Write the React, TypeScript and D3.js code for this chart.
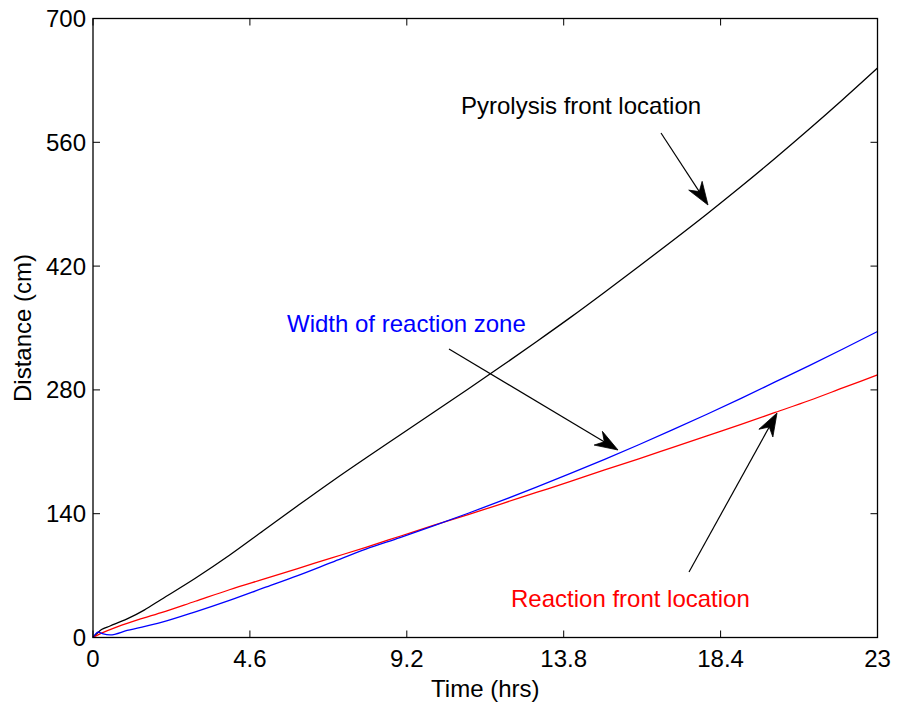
import React from "react";
import * as d3 from "d3";

// Time samples (hrs) for each series
const pyroTime = [0, 0.25, 0.5, 1, 1.5, 2, 3, 4, 5, 6, 7, 8, 9, 10, 11, 12, 13, 14, 15, 16, 17, 18, 19, 20, 21, 22, 23];
const pyroDist = [0, 9, 13, 21, 31, 43, 67, 93, 121, 149, 176.5, 203, 229, 255, 281, 307.5, 334.5, 362, 390.5, 419.5, 449, 479, 510, 542, 575, 609, 644];

const reactTime = [0, 0.25, 0.5, 1, 2, 3, 4, 5, 6, 7, 8, 9, 10, 11, 12, 13, 14, 15, 16, 17, 18, 19, 20, 21, 22, 23];
const reactDist = [0, 5, 9, 16, 28, 41, 54, 66, 78, 90, 102, 114.5, 127, 139, 151.5, 164, 176.5, 189.5, 202, 215, 228, 241, 254.5, 268, 282.5, 297];

const widthTime = [0, 0.15, 0.3, 0.5, 1, 2, 3, 4, 5, 6, 7, 8, 9, 10, 11, 12, 13, 14, 15, 16, 17, 18, 19, 20, 21, 22, 23];
const widthDist = [0, 6, 4, 3, 8, 17, 29, 42, 56, 70, 85, 100, 113, 126.5, 140.5, 155, 170, 185.5, 201.5, 218, 235, 252.5, 270.5, 289, 307.5, 326.5, 346];

const xTicks = [0, 4.6, 9.2, 13.8, 18.4, 23];
const xTickLabels = ["0", "4.6", "9.2", "13.8", "18.4", "23"];
const yTicks = [0, 140, 280, 420, 560, 700];
const yTickLabels = ["0", "140", "280", "420", "560", "700"];

const W = 898;
const H = 709;
const left = 93;
const right = 877.5;
const top = 18.5;
const bottom = 637.5;
const FONT = "'Liberation Sans', Arial, Helvetica, sans-serif";
const FS = 24;
const TICK = 7;

const x = d3.scaleLinear().domain([0, 23]).range([left, right]);
const y = d3.scaleLinear().domain([0, 700]).range([bottom, top]);

const lineGen = d3
  .line<[number, number]>()
  .x((d) => x(d[0]))
  .y((d) => y(d[1]))
  .curve(d3.curveMonotoneX);

const zip = (a: number[], b: number[]): [number, number][] => a.map((v, i) => [v, b[i]]);

// Annotation arrows: pointer from a tail to a tip (pixel space)
type Arrow = { x1: number; y1: number; x2: number; y2: number };
const arrows: Arrow[] = [
  { x1: 661, y1: 133, x2: 708, y2: 205 },
  { x1: 449, y1: 349, x2: 618, y2: 450 },
  { x1: 689, y1: 572, x2: 777, y2: 413 },
];

function arrowHead(a: Arrow) {
  const L = 23;
  const hw = 8;
  const notch = 7;
  const ang = Math.atan2(a.y2 - a.y1, a.x2 - a.x1);
  const c = Math.cos(ang);
  const s = Math.sin(ang);
  const pt = (u: number, v: number) => [a.x2 + u * c - v * s, a.y2 + u * s + v * c];
  const p = [pt(0, 0), pt(-L, hw), pt(-L + notch, 0), pt(-L, -hw)];
  return "M" + p.map((q) => q.join(",")).join("L") + "Z";
}

export default function App() {
  return (
    <svg
      width={W}
      height={H}
      style={{ position: "absolute", left: 0, top: 0, background: "#fff" }}
      fontFamily={FONT}
    >
      <rect x={0} y={0} width={W} height={H} fill="#fff" />

      {/* series */}
      <path d={lineGen(zip(pyroTime, pyroDist)) || ""} fill="none" stroke="#000" strokeWidth={1.3} />
      <path d={lineGen(zip(reactTime, reactDist)) || ""} fill="none" stroke="#ff0000" strokeWidth={1.3} />
      <path d={lineGen(zip(widthTime, widthDist)) || ""} fill="none" stroke="#0000ff" strokeWidth={1.3} />

      {/* axes box */}
      <rect x={left} y={top} width={right - left} height={bottom - top} fill="none" stroke="#000" strokeWidth={1.3} />

      {xTicks.map((t, i) => (
        <g key={"xt" + i}>
          <line x1={x(t)} x2={x(t)} y1={bottom} y2={bottom - TICK} stroke="#000" strokeWidth={1} />
          <line x1={x(t)} x2={x(t)} y1={top} y2={top + TICK} stroke="#000" strokeWidth={1} />
          <text x={x(t)} y={667} fontSize={FS} textAnchor="middle" fill="#000">
            {xTickLabels[i]}
          </text>
        </g>
      ))}
      {yTicks.map((v, i) => (
        <g key={"yt" + i}>
          <line x1={left} x2={left + TICK} y1={y(v)} y2={y(v)} stroke="#000" strokeWidth={1} />
          <line x1={right} x2={right - TICK} y1={y(v)} y2={y(v)} stroke="#000" strokeWidth={1} />
          <text x={86} y={y(v) + 8.5} fontSize={FS} textAnchor="end" fill="#000">
            {yTickLabels[i]}
          </text>
        </g>
      ))}

      <text x={(left + right) / 2} y={697} fontSize={FS} textAnchor="middle" fill="#000">
        Time (hrs)
      </text>
      <text
        transform={`translate(31,${(top + bottom) / 2}) rotate(-90)`}
        fontSize={FS}
        textAnchor="middle"
        fill="#000"
      >
        Distance (cm)
      </text>

      {/* annotations */}
      <text x={461} y={114} fontSize={FS} fill="#000">
        Pyrolysis front location
      </text>
      <text x={287} y={332} fontSize={FS} fill="#0000ff">
        Width of reaction zone
      </text>
      <text x={511} y={607} fontSize={FS} fill="#ff0000">
        Reaction front location
      </text>

      {arrows.map((a, i) => (
        <g key={"ar" + i}>
          <line x1={a.x1} y1={a.y1} x2={a.x2 - (a.x2 - a.x1) * 0.05} y2={a.y2 - (a.y2 - a.y1) * 0.05} stroke="#000" strokeWidth={1.2} />
          <path d={arrowHead(a)} fill="#000" stroke="#000" strokeWidth={0.8} strokeLinejoin="miter" />
        </g>
      ))}
    </svg>
  );
}
